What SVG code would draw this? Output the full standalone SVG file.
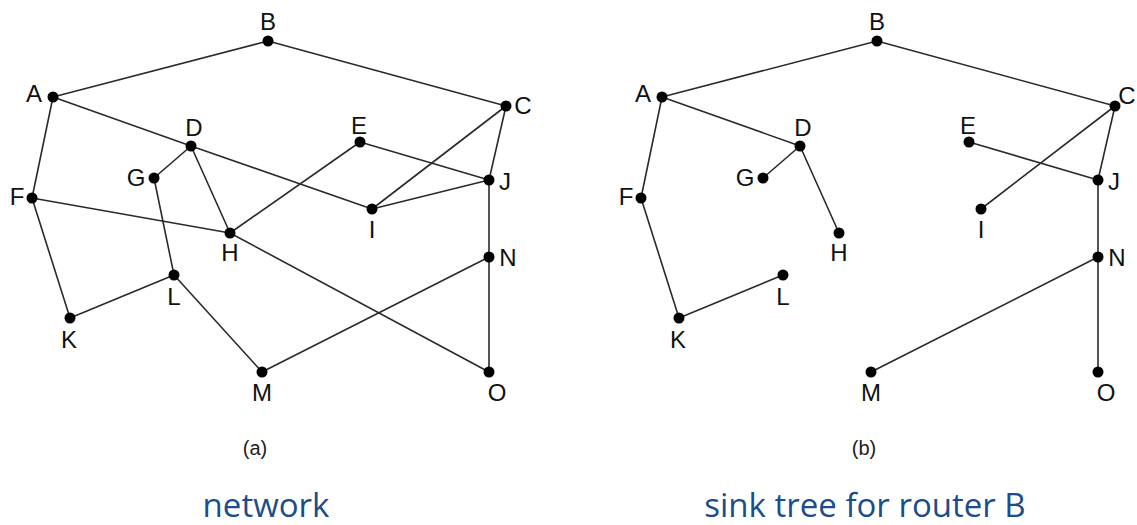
<svg xmlns="http://www.w3.org/2000/svg" width="1137" height="525" viewBox="0 0 1137 525">
<style>
.e{stroke:#2a2a2a;stroke-width:1.6;fill:none;stroke-linecap:round}
.d{fill:#000}
.l{font-family:"Liberation Sans",Arial,sans-serif;font-size:24px;fill:#111;text-anchor:middle}
.cap{font-family:"Liberation Sans",Arial,sans-serif;font-size:20px;fill:#222;text-anchor:middle}
.t{font-family:"Open Sans","Noto Sans",sans-serif;font-size:33px;fill:#1c4c8c;text-anchor:middle}
</style>
<rect width="1137" height="525" fill="#fff"/>
<g id="panel-a">
<g id="edges-a">
<line class="e" x1="53" y1="97" x2="268" y2="41"/>
<line class="e" x1="268" y1="41" x2="506" y2="106"/>
<line class="e" x1="53" y1="97" x2="32" y2="198"/>
<line class="e" x1="53" y1="97" x2="191" y2="146"/>
<line class="e" x1="191" y1="146" x2="372" y2="209"/>
<line class="e" x1="506" y1="106" x2="372" y2="209"/>
<line class="e" x1="506" y1="106" x2="489" y2="180"/>
<line class="e" x1="360" y1="142" x2="489" y2="180"/>
<line class="e" x1="360" y1="142" x2="230" y2="233"/>
<line class="e" x1="191" y1="146" x2="154" y2="178"/>
<line class="e" x1="191" y1="146" x2="230" y2="233"/>
<line class="e" x1="154" y1="178" x2="174" y2="275"/>
<line class="e" x1="32" y1="198" x2="230" y2="233"/>
<line class="e" x1="32" y1="198" x2="70" y2="318"/>
<line class="e" x1="70" y1="318" x2="174" y2="275"/>
<line class="e" x1="174" y1="275" x2="262" y2="372"/>
<line class="e" x1="262" y1="372" x2="489" y2="257"/>
<line class="e" x1="230" y1="233" x2="489" y2="372"/>
<line class="e" x1="372" y1="209" x2="489" y2="180"/>
<line class="e" x1="489" y1="180" x2="489" y2="257"/>
<line class="e" x1="489" y1="257" x2="489" y2="372"/>
</g>
<g id="a-A"><circle class="d" cx="53" cy="97" r="5.5"/><text class="l" x="34" y="102">A</text></g>
<g id="a-B"><circle class="d" cx="268" cy="41" r="5.5"/><text class="l" x="268" y="30">B</text></g>
<g id="a-C"><circle class="d" cx="506" cy="106" r="5.5"/><text class="l" x="523" y="114">C</text></g>
<g id="a-D"><circle class="d" cx="191" cy="146" r="5.5"/><text class="l" x="194" y="136">D</text></g>
<g id="a-E"><circle class="d" cx="360" cy="142" r="5.5"/><text class="l" x="359" y="134">E</text></g>
<g id="a-F"><circle class="d" cx="32" cy="198" r="5.5"/><text class="l" x="17" y="205">F</text></g>
<g id="a-G"><circle class="d" cx="154" cy="178" r="5.5"/><text class="l" x="136" y="186">G</text></g>
<g id="a-H"><circle class="d" cx="230" cy="233" r="5.5"/><text class="l" x="230" y="261">H</text></g>
<g id="a-I"><circle class="d" cx="372" cy="209" r="5.5"/><text class="l" x="372" y="238">I</text></g>
<g id="a-J"><circle class="d" cx="489" cy="180" r="5.5"/><text class="l" x="505" y="190">J</text></g>
<g id="a-K"><circle class="d" cx="70" cy="318" r="5.5"/><text class="l" x="69" y="348">K</text></g>
<g id="a-L"><circle class="d" cx="174" cy="275" r="5.5"/><text class="l" x="174" y="305">L</text></g>
<g id="a-M"><circle class="d" cx="262" cy="372" r="5.5"/><text class="l" x="262" y="401">M</text></g>
<g id="a-N"><circle class="d" cx="489" cy="257" r="5.5"/><text class="l" x="508" y="266">N</text></g>
<g id="a-O"><circle class="d" cx="489" cy="372" r="5.5"/><text class="l" x="497" y="401">O</text></g>
<text class="cap" x="255" y="455">(a)</text>
</g>
<g id="panel-b" transform="translate(609,0)">
<g id="edges-b">
<line class="e" x1="53" y1="97" x2="268" y2="41"/>
<line class="e" x1="268" y1="41" x2="506" y2="106"/>
<line class="e" x1="53" y1="97" x2="32" y2="198"/>
<line class="e" x1="32" y1="198" x2="70" y2="318"/>
<line class="e" x1="70" y1="318" x2="174" y2="275"/>
<line class="e" x1="53" y1="97" x2="191" y2="146"/>
<line class="e" x1="191" y1="146" x2="154" y2="178"/>
<line class="e" x1="191" y1="146" x2="230" y2="233"/>
<line class="e" x1="506" y1="106" x2="372" y2="209"/>
<line class="e" x1="506" y1="106" x2="489" y2="180"/>
<line class="e" x1="360" y1="142" x2="489" y2="180"/>
<line class="e" x1="489" y1="180" x2="489" y2="257"/>
<line class="e" x1="489" y1="257" x2="262" y2="372"/>
<line class="e" x1="489" y1="257" x2="489" y2="372"/>
</g>
<g id="b-A"><circle class="d" cx="53" cy="97" r="5.5"/><text class="l" x="34" y="102">A</text></g>
<g id="b-B"><circle class="d" cx="268" cy="41" r="5.5"/><text class="l" x="268" y="30">B</text></g>
<g id="b-C"><circle class="d" cx="506" cy="106" r="5.5"/><text class="l" x="518" y="104">C</text></g>
<g id="b-D"><circle class="d" cx="191" cy="146" r="5.5"/><text class="l" x="194" y="136">D</text></g>
<g id="b-E"><circle class="d" cx="360" cy="142" r="5.5"/><text class="l" x="359" y="134">E</text></g>
<g id="b-F"><circle class="d" cx="32" cy="198" r="5.5"/><text class="l" x="17" y="205">F</text></g>
<g id="b-G"><circle class="d" cx="154" cy="178" r="5.5"/><text class="l" x="136" y="186">G</text></g>
<g id="b-H"><circle class="d" cx="230" cy="233" r="5.5"/><text class="l" x="230" y="261">H</text></g>
<g id="b-I"><circle class="d" cx="372" cy="209" r="5.5"/><text class="l" x="372" y="238">I</text></g>
<g id="b-J"><circle class="d" cx="489" cy="180" r="5.5"/><text class="l" x="505" y="190">J</text></g>
<g id="b-K"><circle class="d" cx="70" cy="318" r="5.5"/><text class="l" x="69" y="348">K</text></g>
<g id="b-L"><circle class="d" cx="174" cy="275" r="5.5"/><text class="l" x="174" y="305">L</text></g>
<g id="b-M"><circle class="d" cx="262" cy="372" r="5.5"/><text class="l" x="262" y="401">M</text></g>
<g id="b-N"><circle class="d" cx="489" cy="257" r="5.5"/><text class="l" x="508" y="266">N</text></g>
<g id="b-O"><circle class="d" cx="489" cy="372" r="5.5"/><text class="l" x="497" y="401">O</text></g>
<text class="cap" x="255" y="455">(b)</text>
</g>
<text class="t" x="266" y="517">network</text>
<text class="t" x="865" y="517">sink tree for router B</text>
</svg>
